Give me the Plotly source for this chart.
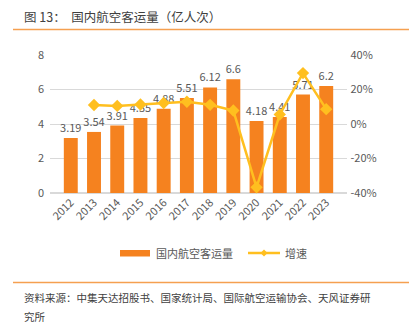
import plotly.graph_objects as go

years = ["2012", "2013", "2014", "2015", "2016", "2017", "2018", "2019", "2020", "2021", "2022", "2023"]
volume = [3.19, 3.54, 3.91, 4.35, 4.88, 5.51, 6.12, 6.6, 4.18, 4.41, 5.71, 6.2]
growth = [None, 11.0, 10.5, 11.3, 12.2, 12.9, 11.1, 7.8, -36.7, 5.5, 29.5, 8.6]
volume_labels = ["3.19", "3.54", "3.91", "4.35", "4.88", "5.51", "6.12", "6.6", "4.18", "4.41", "5.71", "6.2"]
growth_ticks = [-40, -20, 0, 20, 40]
growth_ticktext = [" -40%", " -20%", " 0%", " 20%", " 40%"]

FONT = "Noto Sans CJK SC, Open Sans, sans-serif"
GRAY = "#595959"
DARK = "#404040"
BAR = "#F5821F"
LINE = "#FFBF1F"
RULE = "#F5A050"

W, H = 409, 325
L, R, T, B = 50, 62, 55, 132
PW, PH = W - L - R, H - T - B
def px(x): return (x - L) / PW
def py(y): return (H - B - y) / PH

fig = go.Figure()
fig.add_trace(go.Bar(
    x=years, y=volume, name="国内航空客运量",
    marker=dict(color=BAR, line=dict(width=0)),
    text=volume_labels, textposition="outside", constraintext="none",
    textfont=dict(size=11, color=GRAY, family=FONT),
    cliponaxis=False, showlegend=False,
))
fig.add_trace(go.Scatter(
    x=years, y=growth, name="增速", yaxis="y2",
    mode="lines+markers",
    line=dict(color=LINE, width=2.5),
    marker=dict(symbol="diamond", size=9.5, color=LINE),
    showlegend=False, cliponaxis=False,
))

annotations = [
    dict(text="图 13：  国内航空客运量（亿人次）", x=px(22), y=py(16)),
    dict(text="资料来源：中集天达招股书、国家统计局、国际航空运输协会、天风证券研", x=px(22), y=py(297)),
    dict(text="究所", x=px(22), y=py(316)),
    dict(text="国内航空客运量", x=px(154), y=py(253), gray=True),
    dict(text="增速", x=px(283), y=py(253), gray=True),
]
ann_list = []
for a in annotations:
    ann_list.append(dict(
        text=a["text"], x=a["x"], y=a["y"], xref="paper", yref="paper",
        showarrow=False, xanchor="left", yanchor="middle",
        font=dict(size=11 if a.get("gray") else (12.5 if a["text"].startswith("图") else 10.5),
                  color=GRAY if a.get("gray") else DARK, family=FONT),
    ))

shapes = [
    dict(type="line", x0=px(13), x1=px(409), y0=py(29.5), y1=py(29.5), line=dict(color=RULE, width=1.5)),
    dict(type="line", x0=px(13), x1=px(409), y0=py(282.5), y1=py(282.5), line=dict(color=RULE, width=1.5)),
    # legend swatches
    dict(type="rect", x0=px(120), x1=px(150), y0=py(250), y1=py(256.5), fillcolor=BAR, line=dict(width=0)),
    dict(type="line", x0=px(248), x1=px(280), y0=py(253), y1=py(253), line=dict(color=LINE, width=2.5)),
    dict(type="path", path=f"M {px(264)} {py(249.5)} L {px(267.5)} {py(253)} L {px(264)} {py(256.5)} L {px(260.5)} {py(253)} Z",
         fillcolor=LINE, line=dict(width=0)),
]
for s in shapes:
    s["xref"] = "paper"; s["yref"] = "paper"

fig.update_layout(
    width=W, height=H,
    margin=dict(l=L, r=R, t=T, b=B),
    paper_bgcolor="white", plot_bgcolor="white",
    font=dict(family=FONT, color=GRAY, size=11),
    bargap=0.4,
    showlegend=False,
    xaxis=dict(tickangle=-45, showgrid=False, showline=False, ticks="",
               tickfont=dict(size=11, color=GRAY)),
    yaxis=dict(range=[0, 8], dtick=2, showgrid=True, gridcolor="#D9D9D9", gridwidth=1,
               zeroline=True, zerolinecolor="#D9D9D9", zerolinewidth=1.5,
               tickfont=dict(size=11, color=GRAY), ticksuffix="  "),
    yaxis2=dict(overlaying="y", side="right", range=[-40, 40],
                tickvals=growth_ticks, ticktext=growth_ticktext,
                showgrid=False, zeroline=False,
                tickfont=dict(size=11, color=GRAY)),
    annotations=ann_list,
    shapes=shapes,
)

fig.write_html("out.html")
